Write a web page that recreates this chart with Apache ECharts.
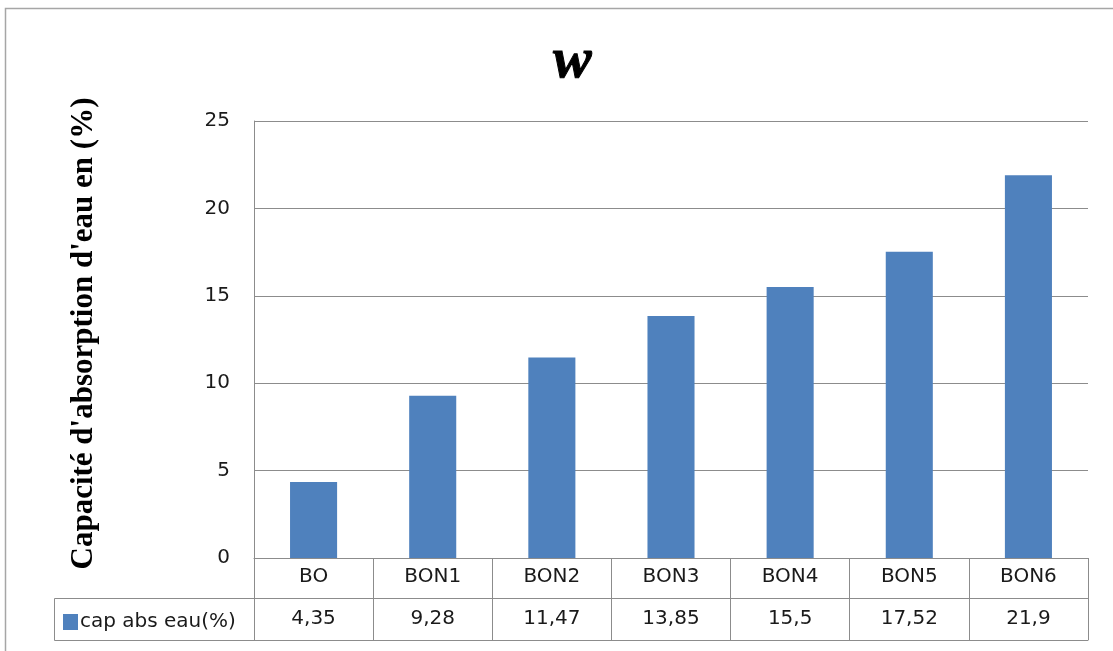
<!DOCTYPE html>
<html>
<head>
<meta charset="utf-8">
<script src="https://cdn.jsdelivr.net/npm/echarts@6/dist/echarts.min.js"></script>
<style>
  html, body { margin: 0; padding: 0; background: #ffffff; }
  #chart { width: 1113px; height: 651px; }
</style>
</head>
<body>
<div id="chart"></div>
<script>
// Water absorption capacity per mix
const categories = ['BO', 'BON1', 'BON2', 'BON3', 'BON4', 'BON5', 'BON6'];
const seriesName = 'cap abs eau(%)';
const values = [4.35, 9.28, 11.47, 13.85, 15.5, 17.52, 21.9];
const yTicks = [0, 5, 10, 15, 20, 25];

const LABEL_FONT = '"DejaVu Sans", "Open Sans", sans-serif';
const LABEL_SIZE = 20;
const GRID_COLOR = '#8c8c8c';
const TEXT_COLOR = '#1a1a1a';
const BAR_COLOR = '#4F81BD';

// French decimal comma for the data table
const fmt = v => String(v).replace('.', ',');

const chart = echarts.init(document.getElementById('chart'), null, { renderer: 'canvas' });

const tableAxisBase = {
  type: 'category',
  data: categories,
  position: 'bottom',
  gridIndex: 0,
  axisLine: { show: true, lineStyle: { color: GRID_COLOR, width: 1 } },
  axisTick: { show: false },
  splitLine: { show: false }
};

chart.setOption({
  animation: false,
  backgroundColor: '#ffffff',
  title: {
    text: 'w',
    left: 548,
    top: 28,
    textStyle: {
      fontFamily: '"Liberation Serif", "DejaVu Serif", serif',
      fontStyle: 'italic',
      fontWeight: 'bold',
      fontSize: 58,
      color: '#000000',
      textBorderColor: '#000000',
      textBorderWidth: 1
    }
  },
  legend: {
    data: [seriesName],
    left: 58,
    top: 607,
    icon: 'rect',
    itemWidth: 15,
    itemHeight: 16,
    itemGap: 6,
    textStyle: { fontFamily: LABEL_FONT, fontSize: LABEL_SIZE, color: TEXT_COLOR, padding: [0, 0, 0, -3] }
  },
  grid: {
    left: 254,
    right: 25,
    top: 121,
    bottom: 93,
    containLabel: false
  },
  xAxis: [
    Object.assign({}, tableAxisBase, {
      // category row; boundary ticks run down through both table rows
      axisTick: {
        show: true,
        alignWithLabel: false,
        interval: 0,
        length: 82,
        lineStyle: { color: GRID_COLOR, width: 1 }
      },
      axisLabel: {
        interval: 0,
        margin: 9,
        fontFamily: LABEL_FONT,
        fontSize: LABEL_SIZE,
        color: TEXT_COLOR
      }
    }),
    Object.assign({}, tableAxisBase, {
      // value row of the data table
      offset: 40,
      axisLabel: {
        interval: 0,
        margin: 11,
        fontFamily: LABEL_FONT,
        fontSize: LABEL_SIZE,
        color: TEXT_COLOR,
        formatter: (c, i) => fmt(values[i])
      }
    }),
    Object.assign({}, tableAxisBase, {
      // bottom edge of the data table
      offset: 82,
      axisLabel: { show: false }
    })
  ],
  yAxis: {
    type: 'value',
    min: yTicks[0],
    max: yTicks[yTicks.length - 1],
    interval: yTicks[1] - yTicks[0],
    name: "Capacité d'absorption d'eau en (%)",
    nameLocation: 'middle',
    nameRotate: 90,
    nameGap: 155,
    nameTextStyle: {
      fontFamily: '"Liberation Serif", "DejaVu Serif", serif',
      fontWeight: 'bold',
      fontSize: 31,
      color: '#000000',
      padding: [0, 0, 0, 12]
    },
    axisLine: { show: true, lineStyle: { color: GRID_COLOR, width: 1 } },
    axisTick: { show: false },
    axisLabel: {
      margin: 24,
      fontFamily: LABEL_FONT,
      fontSize: LABEL_SIZE,
      color: TEXT_COLOR
    },
    splitLine: { show: true, lineStyle: { color: GRID_COLOR, width: 1.2 } }
  },
  series: [
    {
      name: seriesName,
      type: 'bar',
      xAxisIndex: 0,
      data: values,
      barWidth: '39.5%',
      itemStyle: { color: BAR_COLOR }
    }
  ],
  graphic: [
    {
      // outer chart frame
      type: 'rect',
      shape: { x: 5.5, y: 8.5, width: 1200, height: 700 },
      style: { fill: 'none', stroke: '#a6a6a6', lineWidth: 1.5 },
      silent: true
    },
    {
      // legend key cell of the data table
      type: 'rect',
      shape: { x: 54.5, y: 598.5, width: 200, height: 42 },
      style: { fill: 'none', stroke: GRID_COLOR, lineWidth: 1 },
      silent: true
    }
  ]
});
</script>
</body>
</html>
